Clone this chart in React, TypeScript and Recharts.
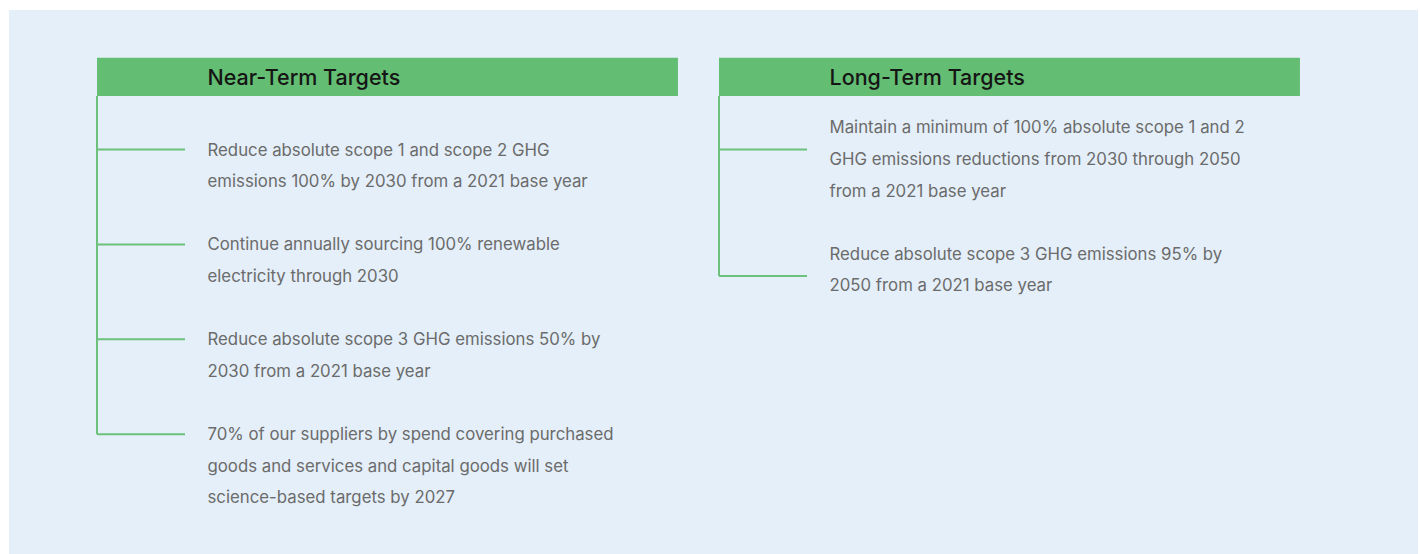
import { ComposedChart, ReferenceArea, ReferenceLine, Scatter, XAxis, YAxis } from 'recharts'

const GROUP_TITLES = ['Near-Term Targets', 'Long-Term Targets']

const NEAR_TERM_TARGETS = [
  ['Reduce absolute scope 1 and scope 2 GHG', 'emissions 100% by 2030 from a 2021 base year'],
  ['Continue annually sourcing 100% renewable', 'electricity through 2030'],
  ['Reduce absolute scope 3 GHG emissions 50% by', '2030 from a 2021 base year'],
  [
    '70% of our suppliers by spend covering purchased',
    'goods and services and capital goods will set',
    'science-based targets by 2027',
  ],
]

const LONG_TERM_TARGETS = [
  [
    'Maintain a minimum of 100% absolute scope 1 and 2',
    'GHG emissions reductions from 2030 through 2050',
    'from a 2021 base year',
  ],
  ['Reduce absolute scope 3 GHG emissions 95% by', '2050 from a 2021 base year'],
]

const GROUP_ITEMS = [NEAR_TERM_TARGETS, LONG_TERM_TARGETS]

// layout, in chart units (x: one column per group, y: one row per text line)
const HEADER_TOP = -2.9
const HEADER_BOTTOM = -1.69
const HEADER_WIDTH = 0.934
const BRANCH_LEN = 0.1415
const TEXT_OFFSET = 0.1777
const TEXT_SHIFT = [0, -0.7]

const GREEN = '#63BD72'
const LINE_GREEN = '#6CC27A'
const PANEL_BG = '#E4EFF9'
const TEXT_COLOR = '#6b6b6b'
const TITLE_COLOR = '#151515'
const FONT = 'Inter, "Noto Sans", sans-serif'

type Item = { col: number; row: number; lines: string[] }

// each item starts one blank row after the previous one ends
const items: Item[] = GROUP_ITEMS.flatMap((targets, col) => {
  let row = 0
  return targets.map((lines) => {
    const item = { col, row, lines }
    row += lines.length + 1
    return item
  })
})

const textPoints = items.flatMap((item) =>
  item.lines.map((text, i) => ({
    x: item.col + TEXT_OFFSET,
    y: item.row + TEXT_SHIFT[item.col] + i,
    text,
  })),
)

const titlePoints = GROUP_TITLES.map((title, col) => ({
  x: col + TEXT_OFFSET,
  y: (HEADER_TOP + HEADER_BOTTOM) / 2,
  text: title,
}))

function TextShape(props: any) {
  const { cx, cy, payload } = props
  return (
    <text
      x={cx}
      y={cy}
      dominantBaseline="central"
      fill={TEXT_COLOR}
      fontSize={16.8}
      fontFamily={FONT}
    >
      {payload.text}
    </text>
  )
}

function TitleShape(props: any) {
  const { cx, cy, payload } = props
  return (
    <text
      x={cx}
      y={cy}
      dominantBaseline="central"
      fill={TITLE_COLOR}
      fontSize={21.5}
      fontWeight={500}
      fontFamily={FONT}
    >
      {payload.text}
    </text>
  )
}

export default function App() {
  return (
    <div style={{ position: 'relative', width: 1420, height: 554, background: '#fff', overflow: 'hidden' }}>
      <style>{'body{margin:0;overflow:hidden}'}</style>
      <div
        style={{
          position: 'absolute',
          left: 9,
          top: 10,
          width: 1409,
          height: 544,
          background: PANEL_BG,
        }}
      />
      <div style={{ position: 'absolute', left: 0, top: 0 }}>
        <ComposedChart
          width={1420}
          height={554}
          margin={{ top: 23, right: 79, bottom: 25, left: 97 }}
        >
          <XAxis type="number" dataKey="x" domain={[0, 2]} hide />
          <YAxis type="number" dataKey="y" domain={[-4, 12]} reversed hide />
          {GROUP_TITLES.map((title, col) => (
            <ReferenceArea
              key={title}
              x1={col}
              x2={col + HEADER_WIDTH}
              y1={HEADER_TOP}
              y2={HEADER_BOTTOM}
              fill={GREEN}
              fillOpacity={1}
              stroke="none"
            />
          ))}
          {GROUP_TITLES.map((title, col) => {
            const rows = items.filter((it) => it.col === col).map((it) => it.row)
            return (
              <ReferenceLine
                key={`trunk-${title}`}
                segment={[
                  { x: col, y: HEADER_BOTTOM },
                  { x: col, y: Math.max(...rows) },
                ]}
                stroke={LINE_GREEN}
                strokeWidth={2}
              />
            )
          })}
          {items.map((it, i) => (
            <ReferenceLine
              key={`branch-${i}`}
              segment={[
                { x: it.col, y: it.row },
                { x: it.col + BRANCH_LEN, y: it.row },
              ]}
              stroke={LINE_GREEN}
              strokeWidth={2}
            />
          ))}
          <Scatter data={textPoints} shape={TextShape} isAnimationActive={false} />
          <Scatter data={titlePoints} shape={TitleShape} isAnimationActive={false} />
        </ComposedChart>
      </div>
    </div>
  )
}
